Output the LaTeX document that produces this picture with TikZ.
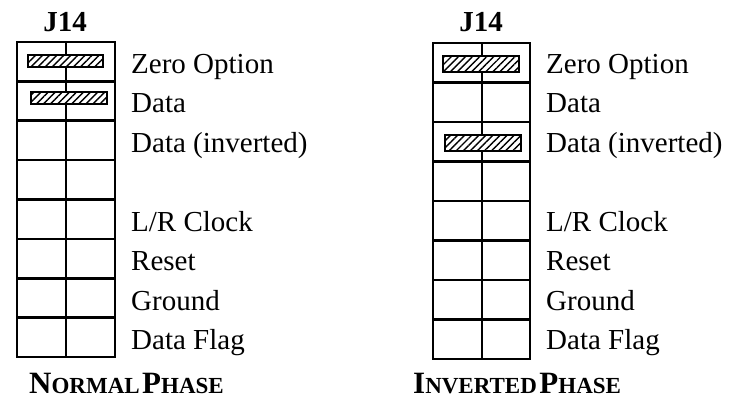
\documentclass[tikz,border=0pt]{standalone}
\usepackage{fontspec}
\setmainfont{Liberation Serif}
\usetikzlibrary{patterns.meta}

% fake small caps: big first letter, small rest
\newcommand{\capword}[2]{{\fontsize{31}{31}\selectfont #1}{\fontsize{23}{23}\selectfont #2}}

\tikzset{
  lbl/.style={anchor=base west, inner sep=0pt, font=\fontsize{29}{29}\selectfont},
  hdr/.style={inner sep=0pt, font=\bfseries\fontsize{29}{29}\selectfont},
  ttl/.style={anchor=base west, inner sep=0pt, font=\bfseries},
  grid/.style={line width=2.6pt},
  shunt/.style={draw, line width=1.8pt, preaction={fill=white},
    pattern={Lines[angle=45,distance=5pt,line width=1.4pt]}}
}

\begin{document}
\begin{tikzpicture}[x=1pt, y=-1pt]
        \useasboundingbox (0,0) rectangle (743,409);

        % Normal phase
        \node[hdr] (jl) at (65, 22) {J14};
        \draw[grid] (17, 42) rectangle (115, 357);
        \draw[grid] (66, 42) -- (66, 357);
        \foreach \r in {1,...,7}
            \draw[grid] (17, 42+\r*39.375) -- (115, 42+\r*39.375);
        \draw[shunt] (28, 55) rectangle (103, 67);
        \draw[shunt] (31, 92) rectangle (107, 104);

        \node[lbl] (lzero) at (131, 74) {Zero Option};
        \node[lbl] (ldata) at (131, 113) {Data};
        \node[lbl] (linv) at (131, 152) {Data (inverted)};
        \node[lbl] (lclk) at (131, 231) {L/R Clock};
        \node[lbl] (lrst) at (131, 270) {Reset};
        \node[lbl] (lgnd) at (131, 310) {Ground};
        \node[lbl] (lflag) at (131, 349) {Data Flag};
        \node[ttl] (lphase) at (29, 393) {\capword{N}{ORMAL} \capword{P}{HASE}};

        % Inverted phase
        \node[hdr] (jr) at (481, 22) {J14};
        \draw[grid] (433, 43) rectangle (530, 359);
        \draw[grid] (482, 43) -- (482, 359);
        \foreach \r in {1,...,7}
            \draw[grid] (433, 43+\r*39.5) -- (530, 43+\r*39.5);
        \draw[shunt] (443, 56) rectangle (519, 72);
        \draw[shunt] (445, 135) rectangle (521, 151);

        \node[lbl] (rzero) at (546, 74) {Zero Option};
        \node[lbl] (rdata) at (546, 113) {Data};
        \node[lbl] (rinv) at (546, 152) {Data (inverted)};
        \node[lbl] (rclk) at (546, 231) {L/R Clock};
        \node[lbl] (rrst) at (546, 270) {Reset};
        \node[lbl] (rgnd) at (546, 310) {Ground};
        \node[lbl] (rflag) at (546, 349) {Data Flag};
        \node[ttl] (rphase) at (413, 393) {\capword{I}{NVERTED} \capword{P}{HASE}};
\end{tikzpicture}
\end{document}
